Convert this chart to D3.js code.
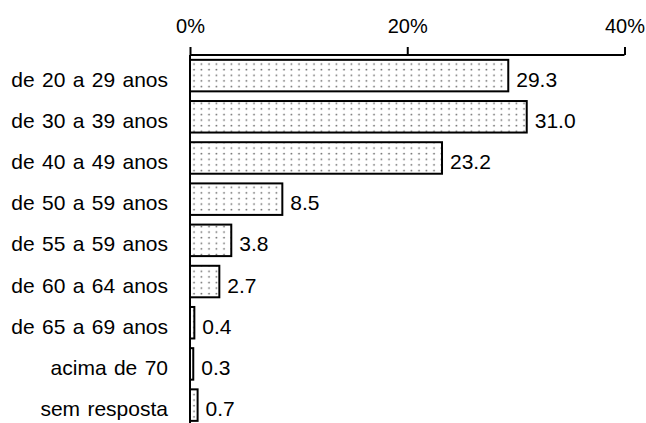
<!DOCTYPE html>
<html>
<head>
<meta charset="utf-8">
<script src="https://cdn.jsdelivr.net/npm/d3@7"></script>
<style>
  html, body { margin: 0; padding: 0; background: #fff; }
  svg { display: block; }
  text { font-family: "Liberation Sans", Arial, Helvetica, sans-serif; fill: #000; }
</style>
</head>
<body>
<svg id="chart" width="646" height="423"></svg>
<script>
const categories = ["de 20 a 29 anos", "de 30 a 39 anos", "de 40 a 49 anos", "de 50 a 59 anos",
  "de 55 a 59 anos", "de 60 a 64 anos", "de 65 a 69 anos", "acima de 70", "sem resposta"];
const values = [29.3, 31.0, 23.2, 8.5, 3.8, 2.7, 0.4, 0.3, 0.7];
const tickValues = [0, 20, 40];
const tickLabels = ["0%", "20%", "40%"];

const svg = d3.select("#chart");
const x0 = 190, x1 = 624.5, axisY = 55;
const fontSize = 21;

const x = d3.scaleLinear().domain([0, 40]).range([x0, x1]);
const y = d3.scaleBand().domain(categories).range([axisY, 425.7])
  .paddingInner(0.235).paddingOuter(0.1175);

// dotted pattern
const defs = svg.append("defs");
const pat = defs.append("pattern").attr("id", "dots")
  .attr("patternUnits", "userSpaceOnUse")
  .attr("x", x0).attr("y", 0)
  .attr("width", 7.5).attr("height", 5.6);
pat.append("rect").attr("width", 7.5).attr("height", 5.6).attr("fill", "#fff");
pat.append("circle").attr("cx", 4).attr("cy", 2.5).attr("r", 0.85).attr("fill", "#666");

// top axis
const axis = d3.axisTop(x).tickValues(tickValues)
  .tickFormat((d, i) => tickLabels[i]).tickSize(8).tickPadding(14);
const gAxis = svg.append("g").attr("transform", `translate(0,${axisY})`).call(axis);
gAxis.select(".domain").attr("d", `M${x0},0H${x1}`).attr("stroke", "#000").attr("stroke-width", 2);
gAxis.selectAll(".tick line").attr("stroke", "#000").attr("stroke-width", 2);
gAxis.selectAll(".tick text").attr("font-size", 20)
  .attr("font-family", "'Liberation Sans', Arial, sans-serif").attr("fill", "#000");

// vertical axis line
svg.append("line").attr("x1", x0).attr("x2", x0).attr("y1", axisY).attr("y2", 425)
  .attr("stroke", "#000").attr("stroke-width", 2);

// bars
svg.append("g").selectAll("rect").data(values).join("rect")
  .attr("x", x(0))
  .attr("y", (d, i) => y(categories[i]))
  .attr("width", d => x(d) - x(0))
  .attr("height", y.bandwidth())
  .attr("fill", "url(#dots)")
  .attr("stroke", "#000").attr("stroke-width", 2);

// category labels
svg.append("g").selectAll("text").data(categories).join("text")
  .attr("x", 168)
  .attr("y", d => y(d) + y.bandwidth() / 2 + 11)
  .attr("text-anchor", "end")
  .attr("font-size", fontSize)
  .attr("word-spacing", 1.5)
  .text(d => d);

// value labels
svg.append("g").selectAll("text").data(values).join("text")
  .attr("x", d => x(d) + 8)
  .attr("y", (d, i) => y(categories[i]) + y.bandwidth() / 2 + 11)
  .attr("font-size", fontSize)
  .text(d => d.toFixed(1));
</script>
</body>
</html>
